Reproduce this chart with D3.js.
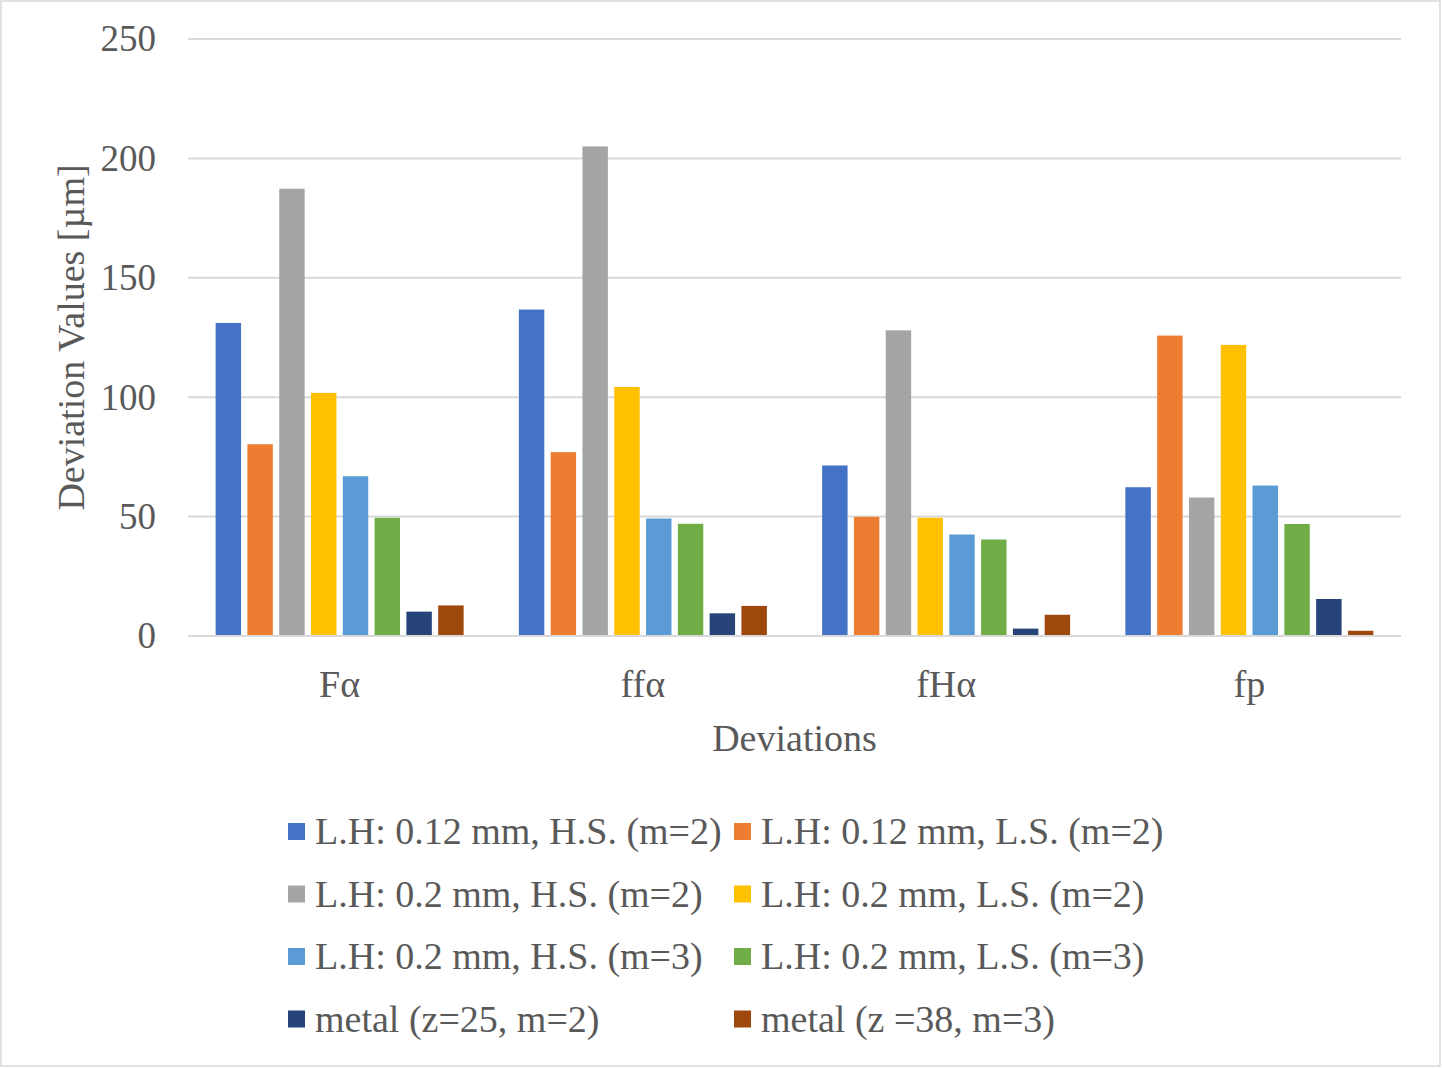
<!DOCTYPE html>
<html>
<head>
<meta charset="utf-8">
<script src="https://cdn.jsdelivr.net/npm/d3@7"></script>
<style>
  body { margin: 0; background: #fff; }
  text { font-family: "Liberation Serif", "Times New Roman", serif; fill: #595959; }
</style>
</head>
<body>
<script>
// categories and series
var categories = ["Fα", "ffα", "fHα", "fp"];
var seriesNames = [
  "L.H: 0.12 mm, H.S. (m=2)",
  "L.H: 0.12 mm, L.S. (m=2)",
  "L.H: 0.2 mm, H.S. (m=2)",
  "L.H: 0.2 mm, L.S. (m=2)",
  "L.H: 0.2 mm, H.S. (m=3)",
  "L.H: 0.2 mm, L.S. (m=3)",
  "metal (z=25, m=2)",
  "metal (z =38, m=3)"
];
// one array per series, values per category
var lh012HS2 = [131.1, 136.7, 71.4, 62.3];
var lh012LS2 = [80.3, 77, 49.9, 125.8];
var lh02HS2  = [187.3, 205, 128, 58];
var lh02LS2  = [101.8, 104.3, 49.5, 121.9];
var lh02HS3  = [66.9, 49.2, 42.5, 63];
var lh02LS3  = [49.5, 47, 40.4, 46.9];
var metal25  = [10.2, 9.5, 3.1, 15.5];
var metal38  = [12.8, 12.6, 8.9, 2.2];
var yTicks = [0, 50, 100, 150, 200, 250];

var seriesValues = [lh012HS2, lh012LS2, lh02HS2, lh02LS2, lh02HS3, lh02LS3, metal25, metal38];
var colors = ["#4472C4", "#ED7D31", "#A5A5A5", "#FFC000", "#5B9BD5", "#70AD47", "#264478", "#9E480E"];

var W = 1442, H = 1068;
var plot = {left: 188, right: 1401, top: 39, bottom: 636};

var svg = d3.select("body").append("svg")
    .attr("width", W)
    .attr("height", H);

// chart border
svg.append("rect")
    .attr("x", 1).attr("y", 1)
    .attr("width", W - 3).attr("height", H - 3)
    .attr("fill", "#fff")
    .attr("stroke", "#d9d9d9")
    .attr("stroke-width", 1.5);

var x0 = d3.scaleBand().domain(categories).range([plot.left, plot.right]).padding(0);
var groupW = 248;
var x1 = d3.scaleBand().domain(d3.range(seriesNames.length)).range([0, groupW]).paddingInner(0.2).paddingOuter(0);
var y = d3.scaleLinear().domain([0, 250]).range([plot.bottom, plot.top]);

// gridlines
svg.append("g")
    .selectAll("line")
    .data(yTicks)
    .enter().append("line")
    .attr("x1", plot.left).attr("x2", plot.right)
    .attr("y1", function(d){ return y(d); })
    .attr("y2", function(d){ return y(d); })
    .attr("stroke", "#d9d9d9")
    .attr("stroke-width", 2);

// y axis labels
var yAxis = svg.append("g")
    .attr("transform", "translate(" + (plot.left - 16) + ",0)")
    .call(d3.axisLeft(y).tickValues(yTicks).tickSize(0).tickPadding(16));
yAxis.select(".domain").remove();
yAxis.selectAll("text")
    .style("font-size", "37px")
    .style("font-family", "Liberation Serif")
    .attr("fill", "#595959");

// bars
var groups = svg.append("g")
    .selectAll("g")
    .data(categories)
    .enter().append("g")
    .attr("transform", function(d){ return "translate(" + (x0(d) + (x0.bandwidth() - groupW) / 2) + ",0)"; });

groups.selectAll("rect")
    .data(function(d, ci){ return seriesValues.map(function(s, si){ return {si: si, v: s[ci]}; }); })
    .enter().append("rect")
    .attr("x", function(d){ return x1(d.si); })
    .attr("width", x1.bandwidth())
    .attr("y", function(d){ return y(d.v); })
    .attr("height", function(d){ return y(0) - y(d.v); })
    .attr("fill", function(d){ return colors[d.si]; });

// baseline
svg.append("line")
    .attr("x1", plot.left).attr("x2", plot.right)
    .attr("y1", y(0)).attr("y2", y(0))
    .attr("stroke", "#d9d9d9")
    .attr("stroke-width", 2);

// x axis labels
var xAxis = svg.append("g")
    .attr("transform", "translate(0," + plot.bottom + ")")
    .call(d3.axisBottom(x0).tickSize(0).tickPadding(34));
xAxis.select(".domain").remove();
xAxis.selectAll("text")
    .style("font-size", "38px")
    .style("font-family", "Liberation Serif")
    .attr("fill", "#595959");

// axis titles
svg.append("text")
    .attr("x", (plot.left + plot.right) / 2)
    .attr("y", 751)
    .attr("text-anchor", "middle")
    .style("font-size", "38px")
    .text("Deviations");

svg.append("text")
    .attr("transform", "translate(84," + ((plot.top + plot.bottom) / 2) + ") rotate(-90)")
    .attr("text-anchor", "middle")
    .style("font-size", "38px")
    .text("Deviation Values [µm]");

// legend
var legend = svg.append("g")
    .selectAll("g")
    .data(seriesNames)
    .enter().append("g")
    .attr("transform", function(d, i){
        var col = i % 2, row = Math.floor(i / 2);
        return "translate(" + (col === 0 ? 288 : 734) + "," + (832 + row * 62.5) + ")";
    });

legend.append("rect")
    .attr("x", 0).attr("y", -9)
    .attr("width", 17).attr("height", 17)
    .attr("fill", function(d, i){ return colors[i]; });

legend.append("text")
    .attr("x", 27)
    .attr("y", 12)
    .style("font-size", "38px")
    .text(function(d){ return d; });
</script>
</body>
</html>
